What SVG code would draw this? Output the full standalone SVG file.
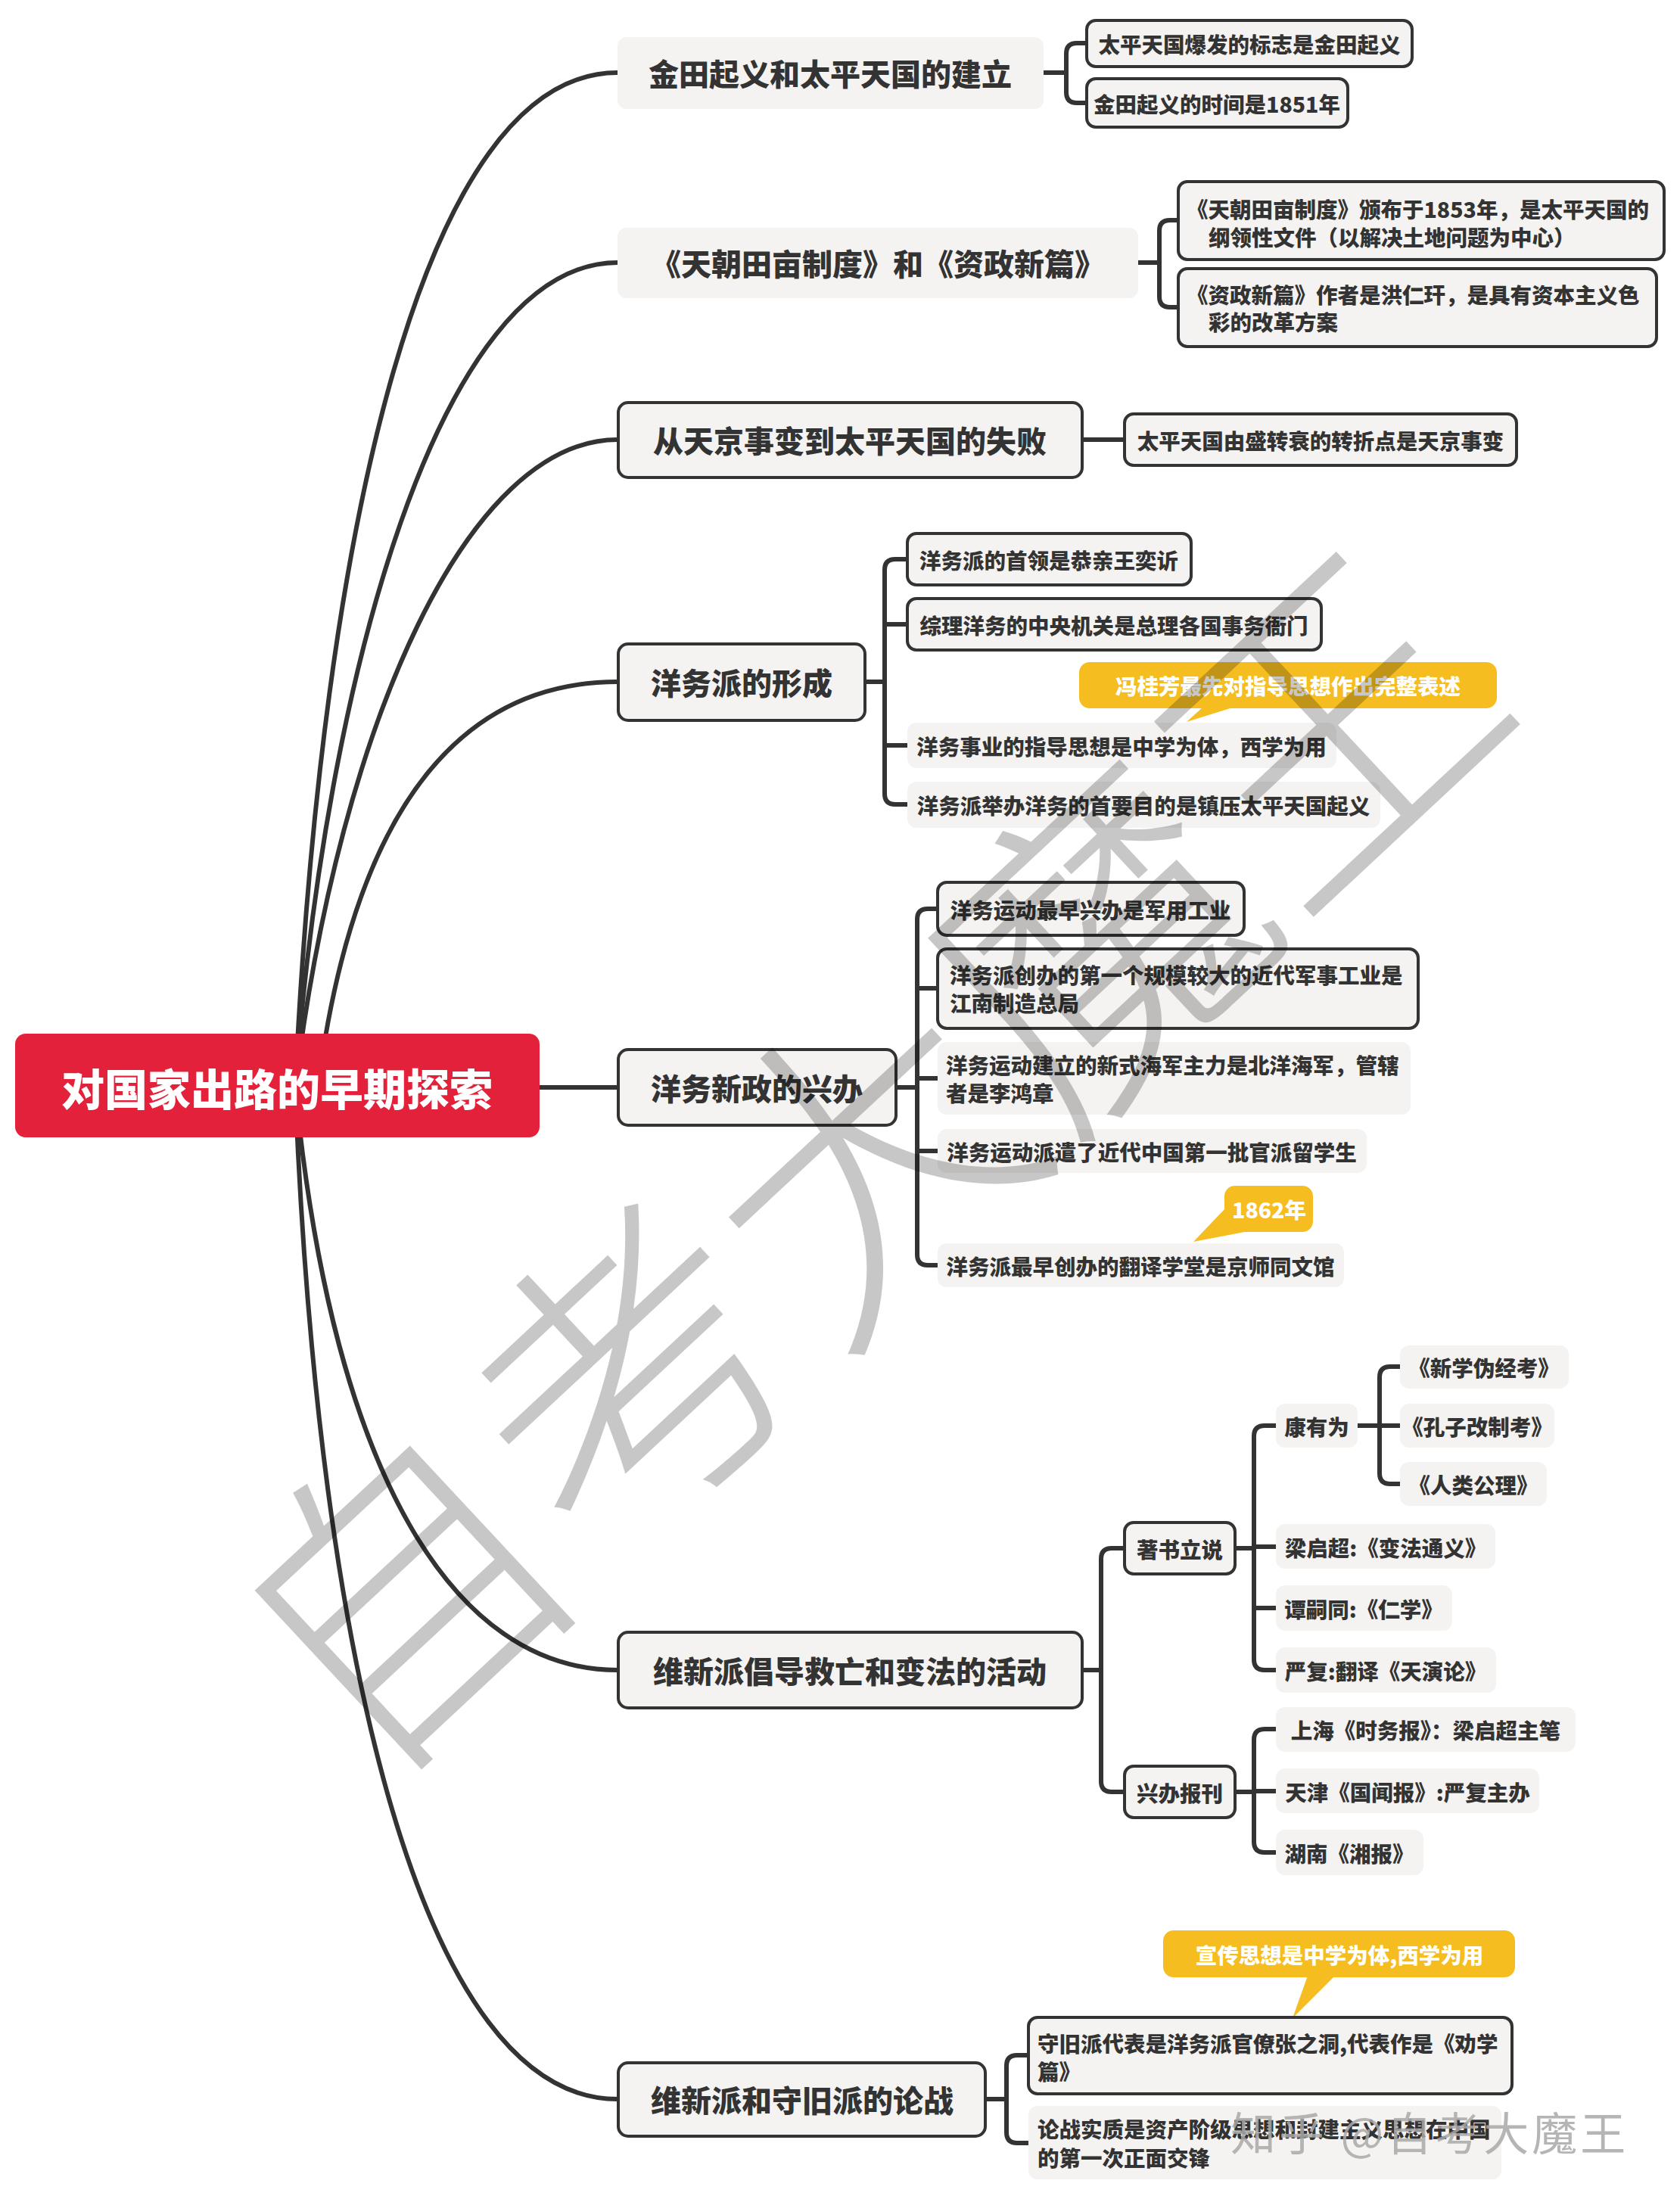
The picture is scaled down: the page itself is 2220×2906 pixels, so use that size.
<svg xmlns="http://www.w3.org/2000/svg" width="2220" height="2906" viewBox="0 0 2220 2906">
<style>
.n{fill:#f5f3f1}
.nb{fill:#f5f3f1;stroke:#333;stroke-width:4}
.ln{fill:none;stroke:#333;stroke-width:6;stroke-linecap:round;stroke-linejoin:round}
.cl{fill:#f6bd20}
text{font-family:"Noto Sans CJK SC","Noto Sans",sans-serif;font-weight:900;fill:#333;dominant-baseline:central}
.t0{font-size:57px;fill:#fff;text-anchor:middle}
.t1{font-size:40px;text-anchor:middle}
.t2{font-size:28.5px;text-anchor:middle}
.tl{font-size:28.5px;text-anchor:start}
.tw{font-size:28.5px;fill:#fff;text-anchor:middle}
.wm{font-weight:300;fill:#000;fill-opacity:0.22;text-anchor:middle}
</style>
<rect width="2220" height="2906" fill="#fff"/>
<g id="connectors">
<path class="ln" d="M390,1437 C425,700 560,96 816,96"/>
<path class="ln" d="M390,1437 C430,900 580,347 816,347"/>
<path class="ln" d="M390,1437 C450,950 620,581 816,581"/>
<path class="ln" d="M420,1437 C470,1050 620,901 816,901"/>
<path class="ln" d="M713,1437 H816"/>
<path class="ln" d="M390,1437 C440,1950 600,2207 816,2207"/>
<path class="ln" d="M390,1437 C420,2200 560,2774 816,2774"/>
<path class="ln" d="M1379,96 H1409 M1436,57 H1423 Q1409,57 1409,71 V122 Q1409,136 1423,136 H1436"/>
<path class="ln" d="M1504,347 H1532 M1557,291 H1546 Q1532,291 1532,305 V392 Q1532,406 1546,406 H1557"/>
<path class="ln" d="M1430,581 H1486"/>
<path class="ln" d="M1143,901 H1169 M1199,739 H1183 Q1169,739 1169,753 V1049 Q1169,1063 1183,1063 H1199 M1169,825 H1199 M1169,985 H1199"/>
<path class="ln" d="M1184,1437 H1212 M1239,1201 H1226 Q1212,1201 1212,1215 V1658 Q1212,1672 1226,1672 H1239 M1212,1306 H1239 M1212,1425 H1239 M1212,1521 H1239"/>
<path class="ln" d="M1430,2207 H1455 M1486,2046 H1469 Q1455,2046 1455,2060 V2354 Q1455,2368 1469,2368 H1486"/>
<path class="ln" d="M1632,2046 H1657 M1686,1884 H1671 Q1657,1884 1657,1898 V2193 Q1657,2207 1671,2207 H1686 M1657,2044 H1686 M1657,2125 H1686"/>
<path class="ln" d="M1632,2368 H1657 M1686,2285 H1671 Q1657,2285 1657,2299 V2434 Q1657,2448 1671,2448 H1686 M1657,2367 H1686"/>
<path class="ln" d="M1794,1884 H1823 M1850,1806 H1837 Q1823,1806 1823,1820 V1947 Q1823,1961 1837,1961 H1850 M1823,1884 H1850"/>
<path class="ln" d="M1302,2774 H1330 M1359,2716 H1344 Q1330,2716 1330,2730 V2818 Q1330,2832 1344,2832 H1359"/>
</g>
<g id="root"><rect x="20" y="1366" width="693" height="137" rx="14" fill="#e4213a"/><text class="t0" x="366" y="1436">对国家出路的早期探索</text></g>
<g id="n1"><rect class="n" x="816" y="49" width="563" height="95" rx="12"/><text class="t1" x="1097" y="96">金田起义和太平天国的建立</text></g>
<g id="n2"><rect class="n" x="816" y="301" width="688" height="93" rx="12"/><text class="t1" x="1160" y="347">《天朝田亩制度》和《资政新篇》</text></g>
<g id="n3"><rect class="nb" x="817" y="532" width="613" height="99" rx="13"/><text class="t1" x="1123" y="581">从天京事变到太平天国的失败</text></g>
<g id="n4"><rect class="nb" x="817" y="851" width="326" height="101" rx="13"/><text class="t1" x="980" y="901">洋务派的形成</text></g>
<g id="n5"><rect class="nb" x="817" y="1387" width="367" height="100" rx="13"/><text class="t1" x="1000" y="1437">洋务新政的兴办</text></g>
<g id="n6"><rect class="nb" x="817" y="2157" width="613" height="100" rx="13"/><text class="t1" x="1123" y="2207">维新派倡导救亡和变法的活动</text></g>
<g id="n7"><rect class="nb" x="817" y="2726" width="485" height="97" rx="13"/><text class="t1" x="1060" y="2774">维新派和守旧派的论战</text></g>
<g id="c1a"><rect class="nb" x="1436" y="27" width="430" height="61" rx="12"/><text class="t2" x="1651" y="57">太平天国爆发的标志是金田起义</text></g>
<g id="c1b"><rect class="nb" x="1436" y="104" width="345" height="64" rx="12"/><text class="t2" x="1608" y="136">金田起义的时间是1851年</text></g>
<g id="c2a"><rect class="nb" x="1557" y="240" width="642" height="103" rx="12"/><text class="tl" x="1568" y="275">《天朝田亩制度》颁布于1853年，是太平天国的</text><text class="tl" x="1597" y="312">纲领性文件（以解决土地问题为中心）</text></g>
<g id="c2b"><rect class="nb" x="1557" y="355" width="632" height="103" rx="12"/><text class="tl" x="1568" y="388">《资政新篇》作者是洪仁玕，是具有资本主义色</text><text class="tl" x="1597" y="424">彩的改革方案</text></g>
<g id="c3a"><rect class="nb" x="1486" y="547" width="518" height="68" rx="12"/><text class="t2" x="1745" y="581">太平天国由盛转衰的转折点是天京事变</text></g>
<g id="c4a"><rect class="nb" x="1199" y="705" width="375" height="68" rx="12"/><text class="t2" x="1386" y="739">洋务派的首领是恭亲王奕䜣</text></g>
<g id="c4b"><rect class="nb" x="1199" y="791" width="547" height="68" rx="12"/><text class="t2" x="1472" y="825">综理洋务的中央机关是总理各国事务衙门</text></g>
<g id="note1"><rect class="cl" x="1426" y="875" width="552" height="61" rx="14"/><polygon class="cl" points="1590,934 1632,934 1568,954"/><text class="tw" x="1702" y="905">冯桂芳最先对指导思想作出完整表述</text></g>
<g id="c4c"><rect class="n" x="1199" y="955" width="567" height="60" rx="12"/><text class="t2" x="1482" y="985">洋务事业的指导思想是中学为体，西学为用</text></g>
<g id="c4d"><rect class="n" x="1199" y="1033" width="625" height="61" rx="12"/><text class="t2" x="1511" y="1063">洋务派举办洋务的首要目的是镇压太平天国起义</text></g>
<g id="c5a"><rect class="nb" x="1239" y="1166" width="405" height="70" rx="12"/><text class="t2" x="1441" y="1201">洋务运动最早兴办是军用工业</text></g>
<g id="c5b"><rect class="nb" x="1239" y="1254" width="635" height="105" rx="12"/><text class="tl" x="1255" y="1287">洋务派创办的第一个规模较大的近代军事工业是</text><text class="tl" x="1255" y="1324">江南制造总局</text></g>
<g id="c5c"><rect class="n" x="1239" y="1377" width="625" height="96" rx="12"/><text class="tl" x="1250" y="1406">洋务运动建立的新式海军主力是北洋海军，管辖</text><text class="tl" x="1250" y="1443">者是李鸿章</text></g>
<g id="c5d"><rect class="n" x="1239" y="1492" width="567" height="58" rx="12"/><text class="t2" x="1522" y="1521">洋务运动派遣了近代中国第一批官派留学生</text></g>
<g id="note2"><rect class="cl" x="1618" y="1567" width="117" height="61" rx="14"/><polygon class="cl" points="1620,1596 1650,1627 1577,1641"/><text class="tw" x="1677" y="1597">1862年</text></g>
<g id="c5e"><rect class="n" x="1239" y="1643" width="537" height="58" rx="12"/><text class="t2" x="1507" y="1672">洋务派最早创办的翻译学堂是京师同文馆</text></g>
<g id="d1"><rect class="nb" x="1486" y="2012" width="146" height="68" rx="12"/><text class="t2" x="1559" y="2046">著书立说</text></g>
<g id="d2"><rect class="nb" x="1486" y="2334" width="146" height="68" rx="12"/><text class="t2" x="1559" y="2368">兴办报刊</text></g>
<g id="e1"><rect class="n" x="1686" y="1855" width="108" height="58" rx="12"/><text class="t2" x="1740" y="1884">康有为</text></g>
<g id="f1"><rect class="n" x="1850" y="1778" width="223" height="57" rx="12"/><text class="t2" x="1961" y="1806">《新学伪经考》</text></g>
<g id="f2"><rect class="n" x="1850" y="1855" width="204" height="58" rx="12"/><text class="t2" x="1952" y="1884">《孔子改制考》</text></g>
<g id="f3"><rect class="n" x="1850" y="1932" width="194" height="58" rx="12"/><text class="t2" x="1947" y="1961">《人类公理》</text></g>
<g id="e2"><rect class="n" x="1686" y="2014" width="290" height="59" rx="12"/><text class="t2" x="1831" y="2044">梁启超:《变法通义》</text></g>
<g id="e3"><rect class="n" x="1686" y="2095" width="233" height="60" rx="12"/><text class="t2" x="1802" y="2125">谭嗣同:《仁学》</text></g>
<g id="e4"><rect class="n" x="1686" y="2177" width="291" height="60" rx="12"/><text class="t2" x="1831" y="2207">严复:翻译《天演论》</text></g>
<g id="e5"><rect class="n" x="1686" y="2256" width="396" height="59" rx="12"/><text class="t2" x="1884" y="2285">上海《时务报》：梁启超主笔</text></g>
<g id="e6"><rect class="n" x="1686" y="2337" width="348" height="59" rx="12"/><text class="t2" x="1860" y="2367">天津《国闻报》:严复主办</text></g>
<g id="e7"><rect class="n" x="1686" y="2418" width="195" height="60" rx="12"/><text class="t2" x="1783" y="2448">湖南《湘报》</text></g>
<g id="note3"><rect class="cl" x="1537" y="2551" width="465" height="62" rx="14"/><polygon class="cl" points="1728,2611 1764,2611 1708,2667"/><text class="tw" x="1770" y="2582">宣传思想是中学为体,西学为用</text></g>
<g id="c7a"><rect class="nb" x="1359" y="2666" width="639" height="101" rx="12"/><text class="tl" x="1371" y="2699">守旧派代表是洋务派官僚张之洞,代表作是《劝学</text><text class="tl" x="1371" y="2736">篇》</text></g>
<g id="c7b"><rect class="n" x="1359" y="2783" width="625" height="97" rx="12"/><text class="tl" x="1371" y="2812">论战实质是资产阶级思想和封建主义思想在中国</text><text class="tl" x="1371" y="2850">的第一次正面交锋</text></g>
<g id="watermark">
<text class="wm" font-size="420" transform="translate(1125,1515) rotate(-43)" x="0" y="0">自考大魔王</text>
<text x="1626" y="2815" font-size="60" letter-spacing="4" style="font-weight:400;fill:#a8a8a8;fill-opacity:0.85">知乎 @自考大魔王</text>
</g>
</svg>
